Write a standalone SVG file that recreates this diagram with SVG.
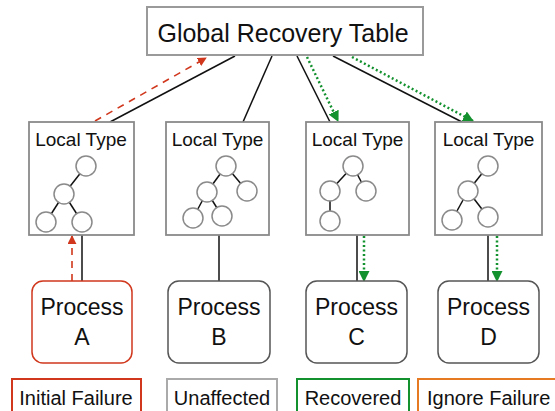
<svg xmlns="http://www.w3.org/2000/svg" width="555" height="411" viewBox="0 0 555 411">
<defs>
<style>
text{font-family:"Liberation Sans",Arial,sans-serif;fill:#111;text-anchor:middle}
.gbox{fill:#fff;stroke:#9a9a9a;stroke-width:2}
.lbox{fill:#fff;stroke:#8a8a8a;stroke-width:1.8}
.c{fill:#fff;stroke:#8a8a8a;stroke-width:1.5}
.e{stroke:#111;stroke-width:1.5}
.blk{stroke:#111;stroke-width:1.5;fill:none}
.red{stroke:#d0371c;stroke-width:1.6;stroke-dasharray:7,6;fill:none}
.grn{stroke:#13912e;stroke-width:2.5;stroke-dasharray:2,2.5;fill:none}
.proc{fill:#fff;stroke:#555;stroke-width:1.5}
.lt{font-size:19px}
.pt{font-size:23px}
.lg{font-size:20px}
</style>
<marker id="ar" viewBox="0 0 10 10" refX="9" refY="5" markerWidth="9" markerHeight="9" markerUnits="userSpaceOnUse" orient="auto"><path d="M0,0L10,5L0,10z" fill="#d0371c"/></marker>
<marker id="ag" viewBox="0 0 10 10" refX="9" refY="5" markerWidth="11" markerHeight="11" markerUnits="userSpaceOnUse" orient="auto"><path d="M0,0L10,5L0,10z" fill="#13912e"/></marker>
</defs>

<g id="connectors">
<line class="blk" x1="235" y1="56" x2="110" y2="122"/>
<line class="blk" x1="272" y1="56" x2="243" y2="122"/>
<line class="blk" x1="297" y1="56" x2="330" y2="122"/>
<line class="blk" x1="333" y1="56" x2="462" y2="122"/>
<line class="red" x1="95" y1="121" x2="206" y2="58" marker-end="url(#ar)"/>
<line class="grn" x1="307" y1="57" x2="338" y2="121" marker-end="url(#ag)"/>
<line class="grn" x1="352" y1="57" x2="473" y2="121" marker-end="url(#ag)"/>
<line class="blk" x1="82" y1="232" x2="82" y2="281"/>
<line class="red" x1="72" y1="281" x2="72" y2="236" marker-end="url(#ar)"/>
<line class="blk" x1="219" y1="235" x2="219" y2="281"/>
<line class="blk" x1="357" y1="235" x2="357" y2="281"/>
<line class="grn" x1="364" y1="236" x2="364" y2="281" marker-end="url(#ag)"/>
<line class="blk" x1="488" y1="227" x2="488" y2="281"/>
<line class="grn" x1="497" y1="236" x2="497" y2="281" marker-end="url(#ag)"/>
</g>

<g id="global">
<rect class="gbox" x="147" y="7" width="276" height="48"/>
<text x="283" y="41.5" font-size="25">Global Recovery Table</text>
</g>

<g id="local1">
<rect class="lbox" x="29" y="122" width="105" height="113"/>
<text class="lt" x="81" y="146">Local Type</text>
<line class="e" x1="86" y1="166" x2="64" y2="194"/>
<line class="e" x1="64" y1="194" x2="46" y2="222"/>
<line class="e" x1="64" y1="194" x2="82" y2="222"/>
<circle class="c" cx="86" cy="166" r="10"/>
<circle class="c" cx="64" cy="194" r="10"/>
<circle class="c" cx="46" cy="222" r="10"/>
<circle class="c" cx="82" cy="222" r="10"/>
</g>

<g id="local2">
<rect class="lbox" x="166" y="122" width="103" height="113"/>
<text class="lt" x="217.5" y="146">Local Type</text>
<line class="e" x1="226" y1="166" x2="207" y2="192"/>
<line class="e" x1="226" y1="166" x2="247" y2="191"/>
<line class="e" x1="207" y1="192" x2="193" y2="218"/>
<line class="e" x1="207" y1="192" x2="222" y2="216"/>
<circle class="c" cx="226" cy="166" r="10"/>
<circle class="c" cx="207" cy="192" r="10"/>
<circle class="c" cx="247" cy="191" r="10"/>
<circle class="c" cx="193" cy="218" r="10"/>
<circle class="c" cx="222" cy="216" r="10"/>
</g>

<g id="local3">
<rect class="lbox" x="306" y="122" width="103" height="113"/>
<text class="lt" x="357.5" y="146">Local Type</text>
<line class="e" x1="353" y1="166" x2="330" y2="191"/>
<line class="e" x1="353" y1="166" x2="366" y2="191"/>
<line class="e" x1="330" y1="191" x2="330" y2="221"/>
<circle class="c" cx="353" cy="166" r="10"/>
<circle class="c" cx="330" cy="191" r="10"/>
<circle class="c" cx="366" cy="191" r="10"/>
<circle class="c" cx="330" cy="221" r="10"/>
</g>

<g id="local4">
<rect class="lbox" x="435" y="122" width="107" height="113"/>
<text class="lt" x="488.5" y="146">Local Type</text>
<line class="e" x1="488" y1="166" x2="468" y2="191"/>
<line class="e" x1="468" y1="191" x2="452" y2="220"/>
<line class="e" x1="468" y1="191" x2="488" y2="217"/>
<circle class="c" cx="488" cy="166" r="10"/>
<circle class="c" cx="468" cy="191" r="10"/>
<circle class="c" cx="452" cy="220" r="10"/>
<circle class="c" cx="488" cy="217" r="10"/>
</g>

<g id="procA">
<rect class="proc" style="stroke:#d0371c" x="32" y="281" width="100" height="82" rx="11"/>
<text class="pt" x="82" y="315">Process</text>
<text class="pt" x="82" y="345">A</text>
</g>
<g id="procB">
<rect class="proc" x="168" y="281" width="102" height="82" rx="11"/>
<text class="pt" x="219" y="315">Process</text>
<text class="pt" x="219" y="345">B</text>
</g>
<g id="procC">
<rect class="proc" x="306" y="281" width="101" height="82" rx="11"/>
<text class="pt" x="356.5" y="315">Process</text>
<text class="pt" x="356.5" y="345">C</text>
</g>
<g id="procD">
<rect class="proc" x="438" y="281" width="101" height="82" rx="11"/>
<text class="pt" x="488.5" y="315">Process</text>
<text class="pt" x="488.5" y="345">D</text>
</g>

<g id="legend">
<rect x="12" y="379" width="129" height="40" fill="#fff" stroke="#d0371c" stroke-width="2"/>
<text class="lg" x="76" y="405">Initial Failure</text>
<rect x="167" y="379" width="110" height="40" fill="#fff" stroke="#aaa" stroke-width="2"/>
<text class="lg" x="222" y="405">Unaffected</text>
<rect x="297" y="379" width="112" height="40" fill="#fff" stroke="#13912e" stroke-width="2"/>
<text class="lg" x="353" y="405">Recovered</text>
<rect x="418" y="379" width="150" height="40" fill="#fff" stroke="#e67a22" stroke-width="2"/>
<text class="lg" text-anchor="start" style="text-anchor:start" x="427" y="405">Ignore Failure</text>
</g>
</svg>
